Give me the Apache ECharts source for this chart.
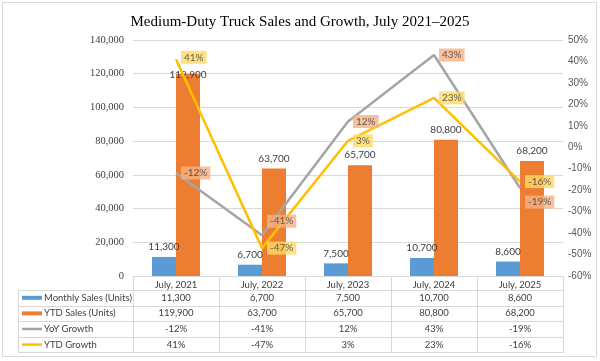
<!DOCTYPE html>
<html><head><meta charset="utf-8">
<script src="https://cdn.jsdelivr.net/npm/echarts@6/dist/echarts.min.js"></script>
<style>html,body{margin:0;padding:0;background:#fff}#c{width:600px;height:361px}</style>
</head><body><div id="c"></div>
<script>
const categories = ['July, 2021', 'July, 2022', 'July, 2023', 'July, 2024', 'July, 2025'];
const monthlySales = [11300, 6700, 7500, 10700, 8600];
const ytdSales = [119900, 63700, 65700, 80800, 68200];
const yoyGrowth = [-12, -41, 12, 43, -19];
const ytdGrowth = [41, -47, 3, 23, -16];
const seriesNames = ['Monthly Sales (Units)', 'YTD Sales (Units)', 'YoY Growth', 'YTD Growth'];
const titleText = 'Medium-Duty Truck Sales and Growth, July 2021\u20132025';

const colors = ['#5B9BD5', '#ED7D31', '#A5A5A5', '#FFC000'];
const labelBg = { yoy: '#F4B183', ytd: '#FFD966' };
const sansFont = 'Lato';
const G = { left: 133, right: 37, top: 40, bottom: 85 };
const W = 600, H = 361;

const fmt = v => v.toLocaleString('en-US');
const pct = v => v + '%';

const yoyOffsets = [[0, 0], [0, -14], [0, 0], [0, 0], [0, 14]];
const ytdOffsets = [[0, -2], [0, 0], [0, 0], [0, 0], [0, 0]];
const ytdSalesOffsets = [[0, 11], [0, 0], [0, 0], [0, 0], [0, 0]];

const chart = echarts.init(document.getElementById('c'), null, { renderer: 'canvas' });

const barLabel = { show: true, position: 'top', distance: 5, color: '#404040', fontSize: 10, fontFamily: sansFont, formatter: p => fmt(p.value) };
const lineLabel = (bg) => ({ show: true, position: 'right', distance: 5, color: '#404040', fontSize: 10, fontFamily: sansFont, backgroundColor: bg, padding: [2, 3, 1, 3], formatter: p => pct(p.value[1]) });

// table graphics
const plotL = G.left, plotR = W - G.right, axisY = H - G.bottom;
const catW = (plotR - plotL) / categories.length;
const tableL = 18, rowTop = 290, rowH = 15.6;
const rows = [monthlySales.map(fmt), ytdSales.map(fmt), yoyGrowth.map(pct), ytdGrowth.map(pct)];
const gridColor = '#D9D9D9';
const tableFont = '9.5px ' + sansFont;
const graphics = [];
graphics.push({ type: 'rect', shape: { x: 2.5, y: 2.5, width: 594, height: 354 }, style: { fill: 'none', stroke: '#D9D9D9', lineWidth: 1 }, silent: true });
for (let i = 0; i <= rows.length; i++) {
  const y = Math.round(rowTop + i * rowH) + 0.5;
  graphics.push({ type: 'line', shape: { x1: tableL, y1: y, x2: plotR, y2: y }, style: { stroke: gridColor, lineWidth: 1 }, silent: true });
}
const tableBottom = Math.round(rowTop + rows.length * rowH) + 0.5;
graphics.push({ type: 'line', shape: { x1: tableL + 0.5, y1: rowTop + 0.5, x2: tableL + 0.5, y2: tableBottom }, style: { stroke: gridColor, lineWidth: 1 }, silent: true });
for (let c = 0; c <= categories.length; c++) {
  const x = Math.round(plotL + c * catW) + 0.5;
  graphics.push({ type: 'line', shape: { x1: x, y1: axisY, x2: x, y2: tableBottom }, style: { stroke: gridColor, lineWidth: 1 }, silent: true });
}
rows.forEach((r, i) => {
  const cy = rowTop + (i + 0.5) * rowH;
  if (i < 2) {
    graphics.push({ type: 'rect', shape: { x: 22, y: cy - 2, width: 20, height: 4 }, style: { fill: colors[i] }, silent: true });
  } else {
    graphics.push({ type: 'line', shape: { x1: 22, y1: cy, x2: 42, y2: cy }, style: { stroke: colors[i], lineWidth: 2.5 }, silent: true });
  }
  graphics.push({ type: 'text', x: 44, y: cy, style: { text: seriesNames[i], fill: '#404040', font: tableFont, textVerticalAlign: 'middle', textAlign: 'left' }, silent: true });
  r.forEach((t, c) => {
    graphics.push({ type: 'text', x: plotL + (c + 0.5) * catW, y: cy, style: { text: t, fill: '#404040', font: tableFont, textVerticalAlign: 'middle', textAlign: 'center' }, silent: true });
  });
});

const labelPoints = (vals, offs) => vals.map((v, i) => ({ value: [categories[i], v], label: { offset: offs[i] } }));

chart.setOption({
  animation: false,
  backgroundColor: '#fff',
  title: { text: titleText, left: 'center', top: 10, textStyle: { fontFamily: 'Liberation Serif', fontSize: 15, fontWeight: 'normal', color: '#000' } },
  grid: G,
  xAxis: {
    type: 'category', data: categories,
    axisLine: { lineStyle: { color: gridColor } },
    axisTick: { show: false },
    axisLabel: { color: '#404040', fontFamily: sansFont, fontSize: 9.5, margin: 4 }
  },
  yAxis: [
    { type: 'value', min: 0, max: 140000, interval: 20000,
      axisLine: { show: false }, axisTick: { show: false },
      splitLine: { lineStyle: { color: gridColor } },
      axisLabel: { color: '#404040', fontFamily: 'Liberation Serif', fontSize: 10.5, margin: 9, formatter: v => fmt(v) } },
    { type: 'value', min: -60, max: 50, interval: 10,
      axisLine: { show: false }, axisTick: { show: false }, splitLine: { show: false },
      axisLabel: { color: '#595959', fontFamily: 'Liberation Sans', fontSize: 10, margin: 5, formatter: v => v + '%' } }
  ],
  series: [
    { name: seriesNames[0], type: 'bar', data: monthlySales, barWidth: 24, barGap: '0%', itemStyle: { color: colors[0] }, label: barLabel, z: 2 },
    { name: seriesNames[1], type: 'bar', data: ytdSales.map((v, i) => ({ value: v, label: { offset: ytdSalesOffsets[i] } })), barWidth: 24, barGap: '0%', itemStyle: { color: colors[1] }, label: barLabel, z: 2 },
    { name: seriesNames[2], type: 'line', yAxisIndex: 1, data: yoyGrowth, symbol: 'none', lineStyle: { color: colors[2], width: 2.5 }, itemStyle: { color: colors[2] }, z: 5 },
    { name: seriesNames[3], type: 'line', yAxisIndex: 1, data: ytdGrowth, symbol: 'none', lineStyle: { color: colors[3], width: 2.5 }, itemStyle: { color: colors[3] }, z: 6 },
    { type: 'scatter', yAxisIndex: 1, data: labelPoints(yoyGrowth, yoyOffsets), symbolSize: 0, label: lineLabel(labelBg.yoy), z: 10, silent: true },
    { type: 'scatter', yAxisIndex: 1, data: labelPoints(ytdGrowth, ytdOffsets), symbolSize: 0, label: lineLabel(labelBg.ytd), z: 11, silent: true }
  ],
  graphic: graphics
});
</script>
</body></html>
